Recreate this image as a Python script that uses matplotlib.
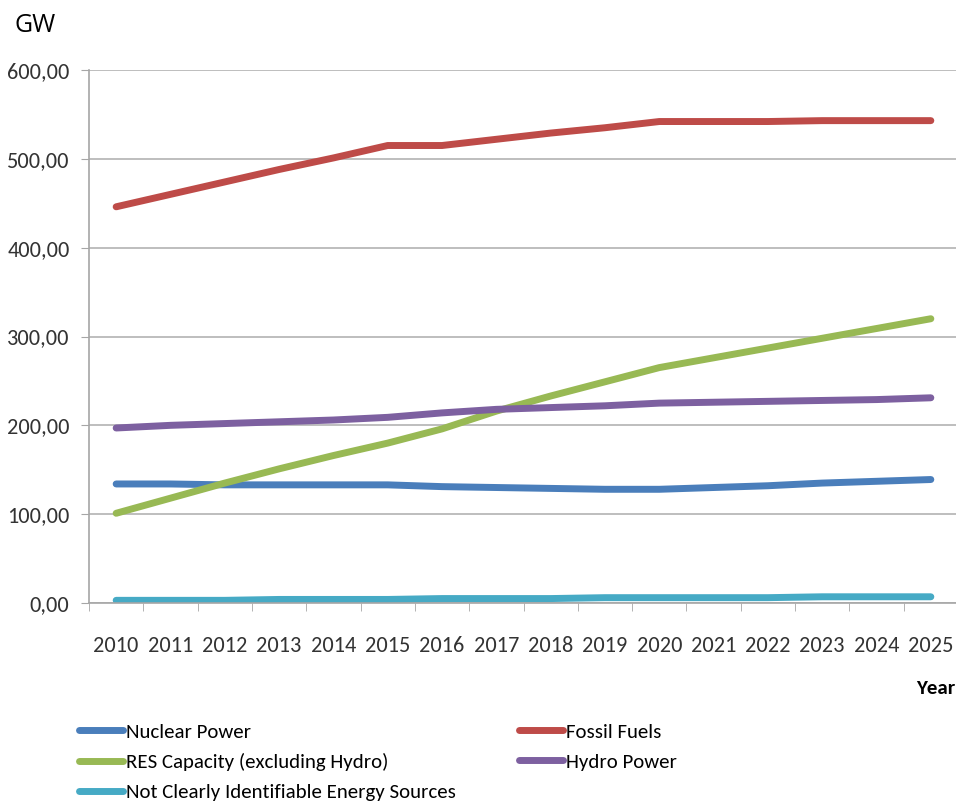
import matplotlib.pyplot as plt
from matplotlib.ticker import FuncFormatter

years = list(range(2010, 2026))
nuclear = [134, 134, 133, 133, 133, 133, 131, 130, 129, 128, 128, 130, 132, 135, 137, 139]
fossil = [446, 460, 474, 488, 501, 515, 515, 522, 529, 535, 542, 542, 542, 543, 543, 543]
res = [101, 118, 135, 151, 166, 180, 196, 216, 233, 249, 265, 276, 287, 298, 309, 320]
hydro = [197, 200, 202, 204, 206, 209, 214, 218, 220, 222, 225, 226, 227, 228, 229, 231]
other = [3, 3, 3, 4, 4, 4, 5, 5, 5, 6, 6, 6, 6, 7, 7, 7]

names = ['Nuclear Power', 'Fossil Fuels', 'RES Capacity (excluding Hydro)',
         'Hydro Power', 'Not Clearly Identifiable Energy Sources']
colors = ['#4a7ebb', '#be4b48', '#98b954', '#7d60a0', '#46aac5']

plt.rcParams['font.family'] = ['Carlito', 'DejaVu Sans']

fig = plt.figure(figsize=(9.56, 8.07), dpi=100)
ax = fig.add_axes([89 / 956, 1 - 603 / 807, 869 / 956, 533 / 807])

x = list(range(len(years)))
lines = []
for vals, name, c in zip([nuclear, fossil, res, hydro, other], names, colors):
    ln, = ax.plot(x, vals, color=c, lw=5, solid_capstyle='round',
                  solid_joinstyle='round', label=name)
    lines.append(ln)

ax.set_xlim(-0.5, len(years) - 0.5)
ax.set_ylim(0, 600)
ax.set_yticks(range(0, 601, 100))
ax.yaxis.set_major_formatter(FuncFormatter(lambda v, p: f'{v:.2f}'.replace('.', ',')))
ax.set_xticks(x)
ax.set_xticklabels([str(y) for y in years])
ax.set_xticks([i - 0.5 for i in range(len(years) + 1)], minor=True)
ax.tick_params(axis='x', which='major', length=0, pad=24, labelsize=16, colors='#333333')
ax.tick_params(axis='x', which='minor', length=6, color='#a6a6a6')
ax.tick_params(axis='y', length=6, color='#a6a6a6', labelsize=16, labelcolor='#333333', pad=8)
ax.yaxis.grid(True, color='#b3b3b3', lw=1.2)
ax.set_axisbelow(True)
for s in ['top', 'right']:
    ax.spines[s].set_visible(False)
for s in ['left', 'bottom']:
    ax.spines[s].set_color('#a6a6a6')
    ax.spines[s].set_linewidth(1.2)

fig.text(15 / 956, 1 - 25 / 807, 'GW', fontsize=18, family=['Open Sans', 'DejaVu Sans'],
         va='center', ha='left')
fig.text(955 / 956, 1 - 688 / 807, 'Year', fontsize=15, fontweight='bold',
         va='center', ha='right')

leg_kw = dict(loc='upper left', frameon=False, fontsize=15, handlelength=2.1,
              handletextpad=0.15, labelspacing=0.6, borderaxespad=0, borderpad=0)
leg1 = fig.legend([lines[0], lines[2], lines[4]], [names[0], names[2], names[4]],
                  bbox_to_anchor=(79 / 956, 1 - 723 / 807), **leg_kw)
leg2 = fig.legend([lines[1], lines[3]], [names[1], names[3]],
                  bbox_to_anchor=(519 / 956, 1 - 723 / 807), **leg_kw)

fig.savefig('out.png', dpi=100)
